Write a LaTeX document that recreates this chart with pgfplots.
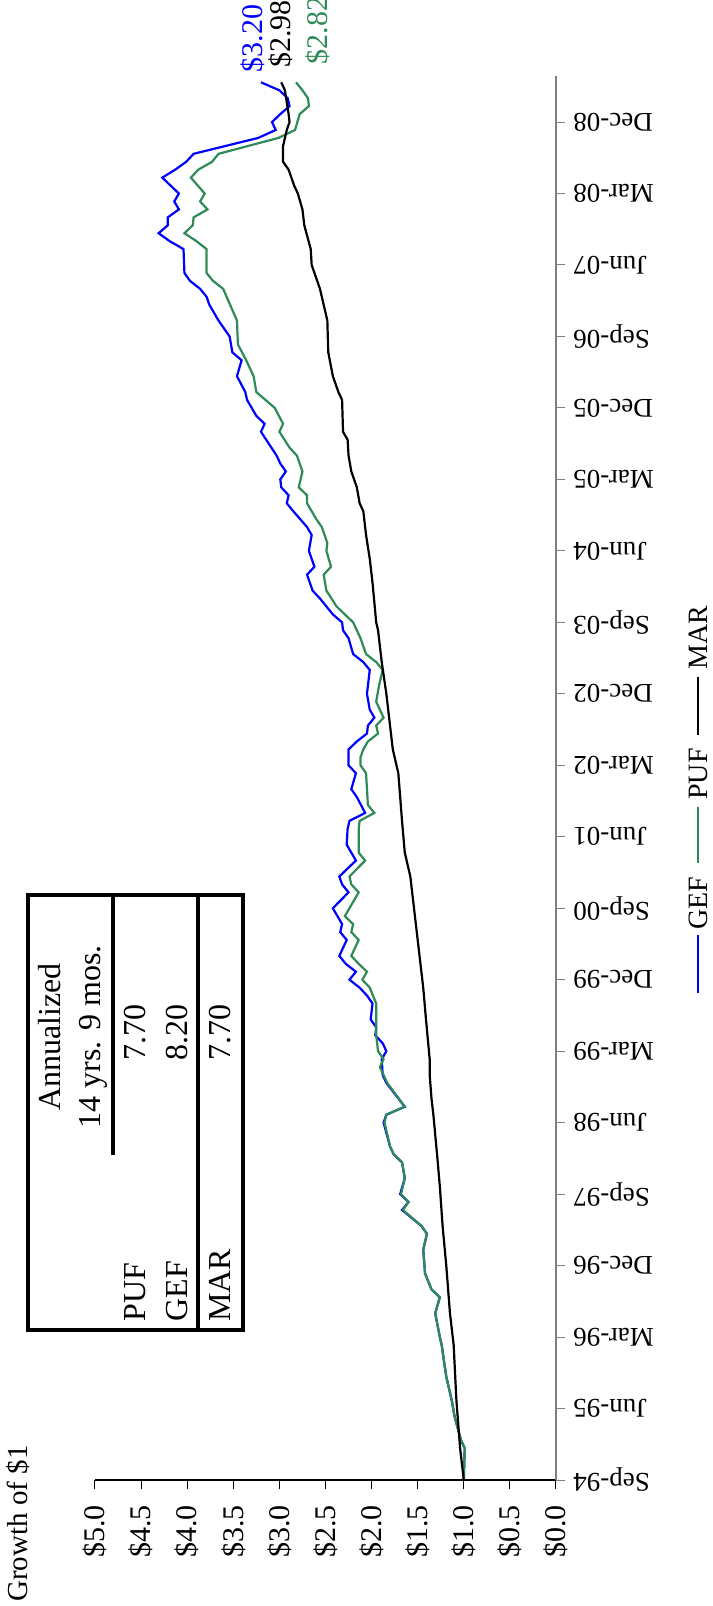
\documentclass[border=0pt]{standalone}
\usepackage{pgfplots}
\pgfplotsset{compat=1.18}
\usepackage{fontspec}
\setmainfont{Liberation Serif}
\definecolor{gefblue}{RGB}{0,0,255}
\definecolor{pufgreen}{RGB}{46,139,87}
\definecolor{axisgray}{RGB}{128,128,128}
\begin{document}
\begin{tikzpicture}
\useasboundingbox (-47.5pt,-63pt) rectangle (308.5pt,740pt);
\begin{axis}[
  scale only axis, width=230.5pt, height=702pt,
  at={(0pt,0pt)}, anchor=south west,
  clip=false,
  xmin=0, xmax=5, x dir=reverse,
  ymin=0, ymax=176.8,
  axis x line*=bottom, axis y line*=right,
  x axis line style={black, line width=0.75pt, -},
  y axis line style={axisgray, line width=1pt, -},
  tick align=outside, major tick length=4.5pt,
  xtick style={black, line width=0.5pt},
  ytick style={axisgray, line width=0.5pt},
  xtick={0,0.5,1,1.5,2,2.5,3,3.5,4,4.5,5},
  xticklabels={\$0.0,\$0.5,\$1.0,\$1.5,\$2.0,\$2.5,\$3.0,\$3.5,\$4.0,\$4.5,\$5.0},
  xticklabel style={font=\fontsize{15}{18}\selectfont, rotate=90, anchor=east, inner sep=0pt},
  xticklabel shift=8pt,
  ytick={0,9,18,27,36,45,54,63,72,81,90,99,108,117,126,135,144,153,162,171},
  yticklabels={Sep-94,Jun-95,Mar-96,Dec-96,Sep-97,Jun-98,Mar-99,Dec-99,Sep-00,Jun-01,Mar-02,Dec-02,Sep-03,Jun-04,Mar-05,Dec-05,Sep-06,Jun-07,Mar-08,Dec-08},
  yticklabel style={font=\fontsize{13.5}{16}\selectfont, rotate=180, anchor=east, inner sep=0pt},
  yticklabel shift=4pt,
]
% GEF
\addplot[gefblue, line width=1.1pt] coordinates {
(1.00,0)(0.99,4)(1.03,5)(1.10,8)(1.13,10)(1.19,13)(1.24,17)(1.26,18)(1.31,21)(1.26,23)(1.35,24)(1.42,26)(1.44,29)(1.40,31)(1.46,32)(1.67,34)(1.60,35)(1.69,36)(1.64,38)(1.67,40)(1.76,41)(1.80,42)(1.87,45)(1.84,46)(1.64,47)(1.84,50)(1.88,51)(1.89,53)(1.84,54)(1.88,55)(1.96,56)(1.95,57)(2.01,58)(1.99,60)(2.05,61)(2.13,62)(2.24,63)(2.17,64)(2.28,65)(2.35,66)(2.27,68)(2.34,69)(2.32,70)(2.42,72)(2.25,74)(2.32,75)(2.35,76)(2.17,78)(2.27,80)(2.26,82)(2.24,83)(2.07,84)(2.16,86)(2.22,87)(2.17,89)(2.25,90)(2.25,92)(2.16,93)(2.05,94)(2.04,95)(1.97,96)(2.02,97)(2.05,99)(2.04,100)(2.02,102)(2.09,103)(2.20,104)(2.25,106)(2.31,107)(2.32,108)(2.42,109)(2.56,111)(2.64,112)(2.70,114)(2.62,115)(2.68,117)(2.65,119)(2.70,120)(2.85,122)(2.92,123)(2.90,124)(2.98,125)(2.99,126)(2.93,127)(2.99,128)(3.03,129)(3.20,132)(3.16,133)(3.25,134)(3.35,136)(3.37,137)(3.46,139)(3.41,141)(3.51,142)(3.54,144)(3.66,146)(3.76,148)(3.79,149)(3.86,150)(3.97,151)(4.03,152)(4.04,155)(4.19,156)(4.31,157)(4.21,158)(4.21,159)(4.09,160)(4.14,161)(4.09,162)(4.27,164)(4.13,165)(4.01,166)(3.93,167)(3.23,169)(3.04,170)(3.08,171)(2.99,172)(2.89,173)(2.91,174)(3.00,175)(3.20,176)
};
% PUF
\addplot[pufgreen, line width=1.1pt] coordinates {
(1.00,0)(0.99,4)(1.03,5)(1.10,8)(1.13,10)(1.19,13)(1.24,17)(1.26,18)(1.31,21)(1.26,23)(1.35,24)(1.42,26)(1.44,29)(1.40,31)(1.46,32)(1.66,34)(1.60,35)(1.68,36)(1.64,38)(1.67,40)(1.76,41)(1.80,42)(1.86,45)(1.84,46)(1.64,47)(1.83,50)(1.87,51)(1.91,52)(1.87,53)(1.93,54)(1.95,56)(1.95,60)(2.02,62)(2.10,63)(2.05,64)(2.14,65)(2.22,66)(2.14,68)(2.22,69)(2.20,70)(2.29,71)(2.14,74)(2.22,75)(2.24,76)(2.07,78)(2.14,79)(2.14,82)(2.13,83)(1.97,84)(2.04,85)(2.06,89)(2.12,90)(2.12,91)(2.09,92)(2.04,93)(1.93,94)(1.95,95)(1.87,96)(1.95,98)(1.92,100)(1.88,102)(1.95,103)(2.06,104)(2.12,106)(2.20,108)(2.38,110)(2.49,112)(2.52,114)(2.44,115)(2.49,117)(2.48,118)(2.54,120)(2.60,121)(2.70,123)(2.70,124)(2.79,125)(2.75,127)(2.81,129)(2.89,130)(3.00,132)(2.96,133)(3.05,135)(3.15,136)(3.25,137)(3.28,139)(3.36,141)(3.45,143)(3.46,146)(3.61,150)(3.72,151)(3.79,152)(3.79,155)(3.90,156)(4.03,157)(3.94,158)(3.93,159)(3.78,160)(3.86,161)(3.81,162)(3.96,164)(3.88,165)(3.73,166)(3.66,167)(3.01,169)(2.83,170)(2.78,172)(2.68,173)(2.69,174)(2.75,175)(2.82,176)
};
% MAR
\addplot[black, line width=1.1pt] coordinates {
(1.00,0)(1.04,4)(1.08,10)(1.11,17)(1.15,21)(1.19,27)(1.23,32)(1.26,37)(1.29,41)(1.33,46)(1.35,48)(1.37,51)(1.37,53)(1.41,58)(1.44,62)(1.47,65)(1.51,69)(1.55,73)(1.58,76)(1.64,79)(1.67,83)(1.71,89)(1.77,92)(1.79,94)(1.84,99)(1.89,103)(1.93,107)(1.95,108)(1.99,113)(2.02,116)(2.06,119)(2.09,122)(2.13,123)(2.16,125)(2.22,127)(2.25,129)(2.26,131)(2.31,132)(2.32,136)(2.36,137)(2.42,139)(2.47,142)(2.48,146)(2.56,150)(2.65,153)(2.66,155)(2.73,158)(2.75,160)(2.80,162)(2.84,163)(2.90,165)(2.96,166)(2.96,168)(2.92,170)(2.89,171)(2.90,172)(2.94,175)(2.98,176)
};
% end-of-period values
\node[rotate=90, anchor=west, inner sep=0pt, text=gefblue, font=\fontsize{15}{18}\selectfont] at (axis cs:3.29,177.2) {\$3.20};
\node[rotate=90, anchor=west, inner sep=0pt, text=black, font=\fontsize{15}{18}\selectfont] at (axis cs:2.98,177.8) {\$2.98};
\node[rotate=90, anchor=west, inner sep=0pt, text=pufgreen, font=\fontsize{15}{18}\selectfont] at (axis cs:2.58,178.2) {\$2.82};
\end{axis}

% axis title
\node[rotate=90, anchor=west, inner sep=0pt, font=\fontsize{14.5}{17}\selectfont] at (-38.5pt,-61pt) {Growth of \$1};

% annualized returns table
\begin{scope}[line width=2pt]
\draw[fill=white] (-33.5pt,75pt) rectangle (74pt,292.5pt);
\draw (51.5pt,75pt) -- (51.5pt,292.5pt);
\draw (9pt,162.5pt) -- (9pt,292.5pt);
\end{scope}
\begin{scope}[every node/.style={rotate=90, inner sep=0pt, font=\fontsize{16}{19}\selectfont}]
\node at (-22.5pt,221.5pt) {Annualized};
\node at (-0.75pt,221.5pt) {14 yrs. 9 mos.};
\node[anchor=west] at (20pt,209.5pt) {7.70};
\node[anchor=west] at (41.25pt,209.5pt) {8.20};
\node[anchor=west] at (62.5pt,209.5pt) {7.70};
\node[anchor=west] at (20pt,79pt) {PUF};
\node[anchor=west] at (41.25pt,79pt) {GEF};
\node[anchor=west] at (62.5pt,79pt) {MAR};
\end{scope}

% legend
\draw[gefblue, line width=1.1pt] (301.5pt,243.5pt) -- (301.5pt,272.5pt);
\draw[pufgreen, line width=1.1pt] (301.5pt,308.5pt) -- (301.5pt,336.5pt);
\draw[black, line width=1.1pt] (301.5pt,372.5pt) -- (301.5pt,401.5pt);
\begin{scope}[every node/.style={rotate=90, anchor=west, inner sep=0pt, font=\fontsize{14}{17}\selectfont}]
\node at (301.5pt,275pt) {GEF};
\node at (301.5pt,340pt) {PUF};
\node at (301.5pt,405pt) {MAR};
\end{scope}
\end{tikzpicture}
\end{document}
